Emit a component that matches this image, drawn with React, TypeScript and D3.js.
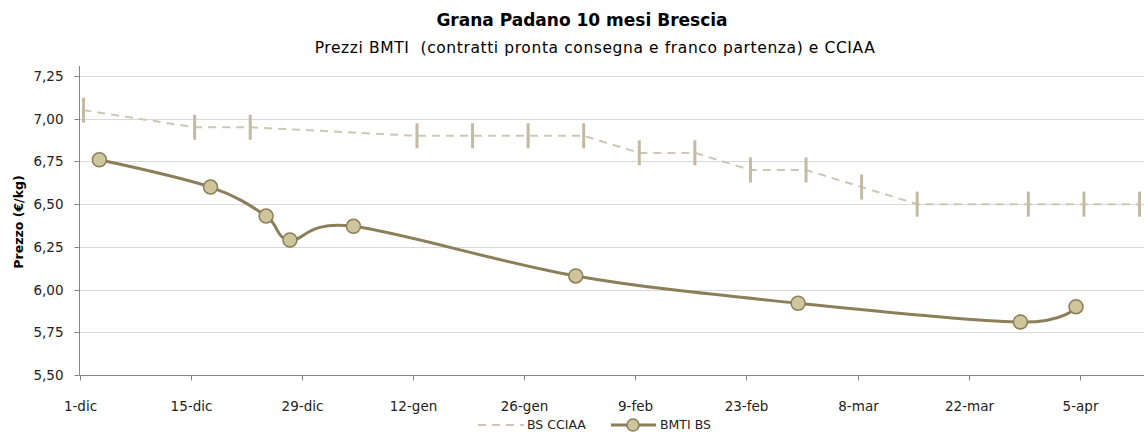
import React, { useEffect, useRef } from 'react'
import * as d3 from 'd3'

// CCIAA quotations (weekly, Thursday)
const cciaaDates = [
  '2011-12-01', '2011-12-15', '2011-12-22', '2012-01-12', '2012-01-19', '2012-01-26',
  '2012-02-02', '2012-02-09', '2012-02-16', '2012-02-23', '2012-03-01', '2012-03-08',
  '2012-03-15', '2012-03-29', '2012-04-05', '2012-04-12'
]
const cciaaValues = [7.05, 6.95, 6.95, 6.9, 6.9, 6.9, 6.9, 6.8, 6.8, 6.7, 6.7, 6.6, 6.5, 6.5, 6.5, 6.5]

// BMTI Brescia prices
const bmtiDates = [
  '2011-12-03', '2011-12-17', '2011-12-24', '2011-12-27', '2012-01-04',
  '2012-02-01', '2012-02-29', '2012-03-28', '2012-04-04'
]
const bmtiValues = [6.76, 6.6, 6.43, 6.29, 6.37, 6.08, 5.92, 5.81, 5.9]

const xTicks = [
  '2011-12-01', '2011-12-15', '2011-12-29', '2012-01-12', '2012-01-26',
  '2012-02-09', '2012-02-23', '2012-03-08', '2012-03-22', '2012-04-05'
]
const monthNames = ['gen', 'feb', 'mar', 'apr', 'mag', 'giu', 'lug', 'ago', 'set', 'ott', 'nov', 'dic']
const yTicks = [5.5, 5.75, 6.0, 6.25, 6.5, 6.75, 7.0, 7.25]
const seriesNames = ['BS CCIAA', 'BMTI BS']

const W = 1144
const H = 432
const FONT = '"DejaVu Sans", Verdana, sans-serif'

const App = () => {
  const ref = useRef<SVGSVGElement>(null)

  useEffect(() => {
    const svg = d3.select(ref.current)
    svg.selectAll('*').remove()

    const parse = d3.timeParse('%Y-%m-%d')
    // Excel date axis: each day occupies a slot, points sit in the middle
    const mid = (s: string) => d3.timeHour.offset(parse(s) as Date, 12)

    const x = d3
      .scaleTime()
      .domain([parse('2011-12-01') as Date, parse('2012-04-13') as Date])
      .range([79.5, 1143.5])

    const y = d3.scaleLinear().domain([5.5, 7.25]).range([375, 76])

    const fmtY = (v: number) => d3.format('.2f')(v).replace('.', ',')
    const fmtX = (d: Date) => d.getDate() + '-' + monthNames[d.getMonth()]

    // titles
    svg
      .append('text')
      .attr('x', 582)
      .attr('y', 26)
      .attr('text-anchor', 'middle')
      .style('font', 'bold 17px ' + FONT)
      .style('fill', '#000')
      .text('Grana Padano 10 mesi Brescia')

    svg
      .append('text')
      .attr('x', 595)
      .attr('y', 53)
      .attr('text-anchor', 'middle')
      .style('font', '15.5px ' + FONT)
      .style('letter-spacing', '0.6px')
      .style('fill', '#000')
      .style('white-space', 'pre')
      .text('Prezzi BMTI  (contratti pronta consegna e franco partenza) e CCIAA')

    // gridlines
    svg
      .append('g')
      .selectAll('line')
      .data(yTicks.slice(1))
      .enter()
      .append('line')
      .attr('x1', 79.5)
      .attr('x2', W)
      .attr('y1', function (d) { return Math.round(y(d)) + 0.5 })
      .attr('y2', function (d) { return Math.round(y(d)) + 0.5 })
      .style('stroke', '#d9d9d9')
      .style('stroke-width', 1)

    // y axis
    const yAxis = svg.append('g').attr('transform', 'translate(79.5,0)')
    yAxis
      .append('line')
      .attr('y1', 66)
      .attr('y2', 375.5)
      .style('stroke', '#868686')
    const yt = yAxis
      .selectAll('g')
      .data(yTicks)
      .enter()
      .append('g')
      .attr('transform', function (d) { return 'translate(0,' + (Math.round(y(d)) + 0.5) + ')' })
    yt.append('line').attr('x1', -5).attr('x2', 0).style('stroke', '#868686')
    yt.append('text')
      .attr('x', -16)
      .attr('dy', '0.35em')
      .attr('text-anchor', 'end')
      .style('font', '13.5px ' + FONT)
      .style('fill', '#222')
      .text(fmtY)

    svg
      .append('text')
      .attr('transform', 'translate(23,222) rotate(-90)')
      .attr('text-anchor', 'middle')
      .style('font', 'bold 12.5px ' + FONT)
      .style('fill', '#000')
      .text('Prezzo (€/kg)')

    // x axis
    const xAxis = svg.append('g').attr('transform', 'translate(0,375.5)')
    xAxis.append('line').attr('x1', 79.5).attr('x2', W).style('stroke', '#868686')
    const xt = xAxis
      .selectAll('g')
      .data(xTicks.map(function (s) { return parse(s) as Date }))
      .enter()
      .append('g')
      .attr('transform', function (d) { return 'translate(' + (Math.round(x(d)) + 0.5) + ',0)' })
    xt.append('line').attr('y1', 0).attr('y2', 5).style('stroke', '#868686')
    xt.append('text')
      .attr('y', 35)
      .attr('text-anchor', 'middle')
      .style('font', '13.5px ' + FONT)
      .style('fill', '#222')
      .text(fmtX)

    // CCIAA series
    const cciaa = cciaaDates.map(function (s, i) { return { date: mid(s), value: cciaaValues[i] } })
    const line1 = d3
      .line<{ date: Date; value: number }>()
      .x(function (d) { return x(d.date) })
      .y(function (d) { return y(d.value) })

    svg
      .append('path')
      .datum(cciaa)
      .attr('d', line1)
      .style('fill', 'none')
      .style('stroke', '#cfc7b3')
      .style('stroke-width', 2)
      .style('stroke-dasharray', '8,6')

    svg
      .append('g')
      .selectAll('line')
      .data(cciaa)
      .enter()
      .append('line')
      .attr('x1', function (d) { return x(d.date) })
      .attr('x2', function (d) { return x(d.date) })
      .attr('y1', function (d) { return y(d.value) - 12.5 })
      .attr('y2', function (d) { return y(d.value) + 12.5 })
      .style('stroke', '#c3baa4')
      .style('stroke-width', 3)

    // BMTI series
    const bmti = bmtiDates.map(function (s, i) { return { date: mid(s), value: bmtiValues[i] } })
    const line2 = d3
      .line<{ date: Date; value: number }>()
      .x(function (d) { return x(d.date) })
      .y(function (d) { return y(d.value) })
      .curve(d3.curveCardinal.tension(0))

    svg
      .append('path')
      .datum(bmti)
      .attr('d', line2)
      .style('fill', 'none')
      .style('stroke', '#8b7e59')
      .style('stroke-width', 3)

    svg
      .append('g')
      .selectAll('circle')
      .data(bmti)
      .enter()
      .append('circle')
      .attr('cx', function (d) { return x(d.date) })
      .attr('cy', function (d) { return y(d.value) })
      .attr('r', 7)
      .style('fill', '#cec59c')
      .style('stroke', '#8b7e59')
      .style('stroke-width', 1.5)

    // legend
    const lg = svg.append('g').attr('transform', 'translate(0,425)')
    lg.append('line')
      .attr('x1', 478)
      .attr('x2', 524)
      .style('stroke', '#cfc7b3')
      .style('stroke-width', 2)
      .style('stroke-dasharray', '8,6')
    lg.append('text')
      .attr('x', 527)
      .attr('dy', '0.35em')
      .style('font', '12.5px ' + FONT)
      .style('fill', '#222')
      .text(seriesNames[0])
    lg.append('line')
      .attr('x1', 611)
      .attr('x2', 656)
      .style('stroke', '#8b7e59')
      .style('stroke-width', 3)
    lg.append('circle')
      .attr('cx', 633)
      .attr('r', 6)
      .style('fill', '#cec59c')
      .style('stroke', '#8b7e59')
      .style('stroke-width', 1.5)
    lg.append('text')
      .attr('x', 660)
      .attr('dy', '0.35em')
      .style('font', '12.5px ' + FONT)
      .style('fill', '#222')
      .text(seriesNames[1])
  }, [])

  return (
    <svg
      ref={ref}
      width={W}
      height={H}
      style={{ position: 'absolute', left: 0, top: 0, background: '#fff', display: 'block' }}
    />
  )
}

export default App
